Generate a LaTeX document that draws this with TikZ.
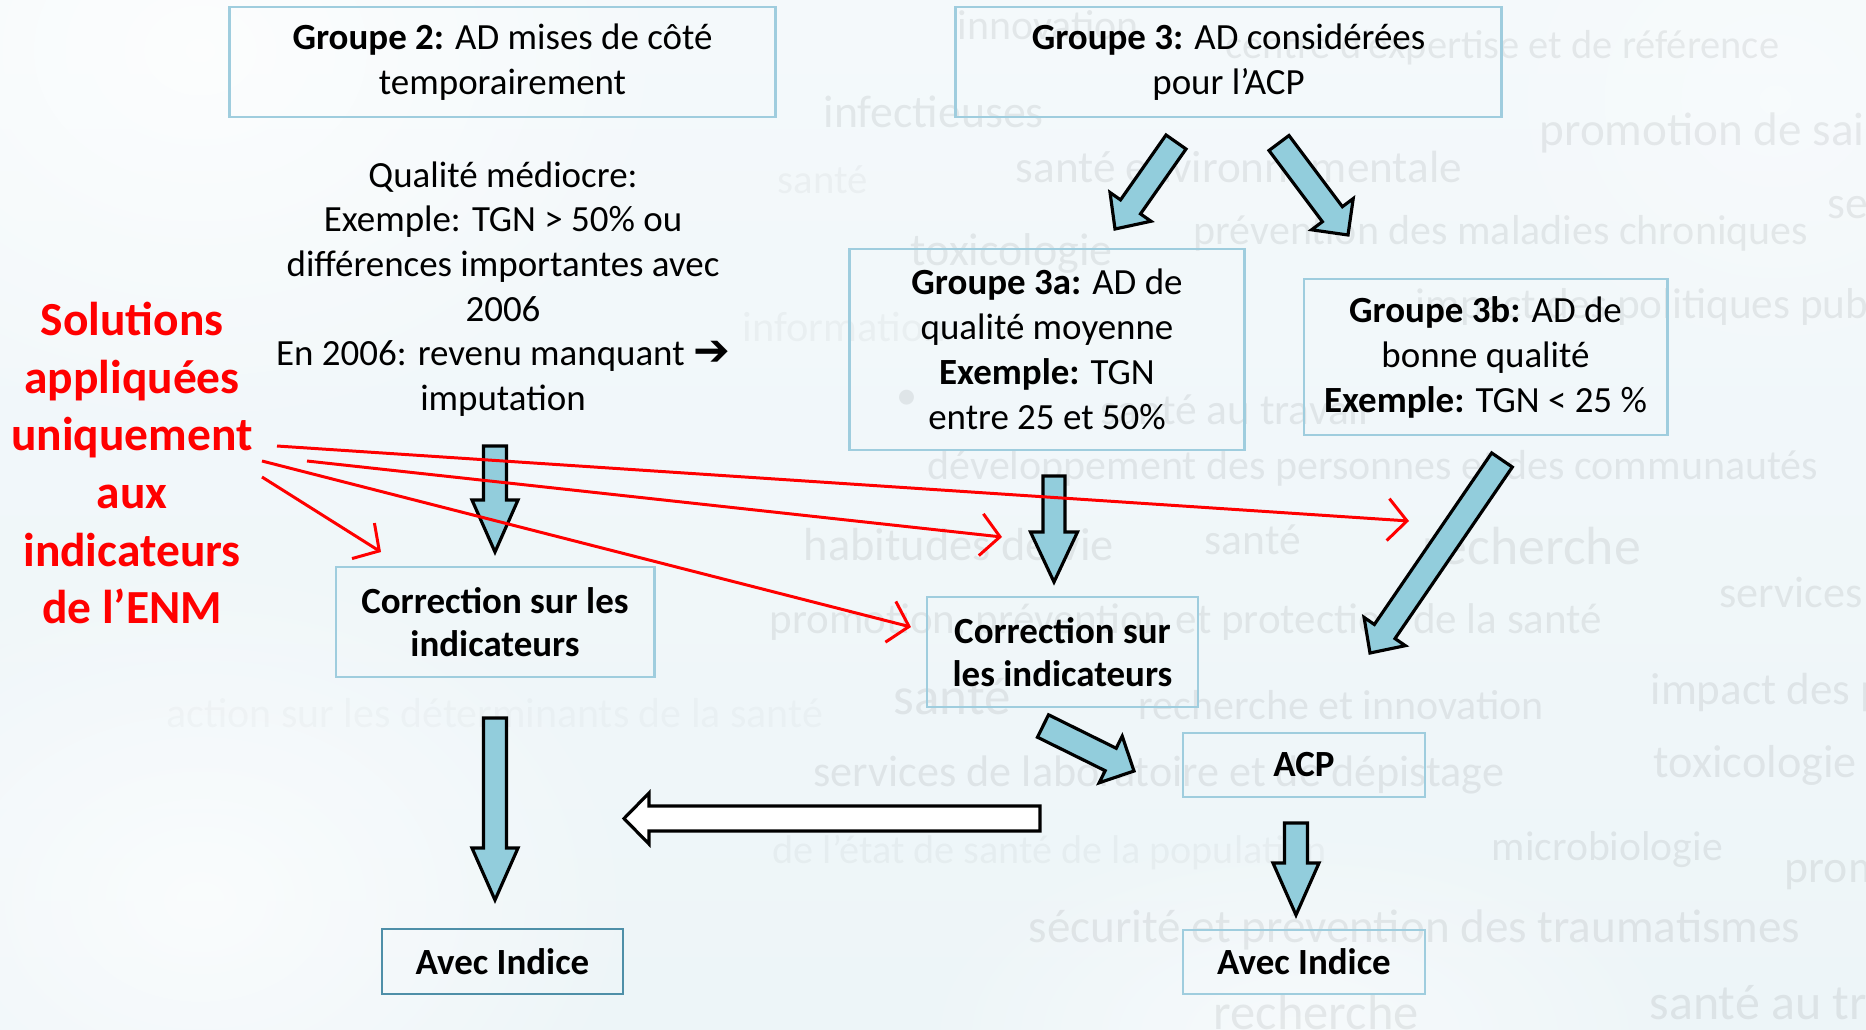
\documentclass[tikz,border=0pt]{standalone}
\usepackage{fontspec}
\setmainfont{Carlito}
\newfontfamily\symfont{DejaVu Sans}
\usepackage{graphicx}
\usetikzlibrary{calc,arrows.meta,fadings}

\definecolor{boxblue}{HTML}{9FCDDE}
\definecolor{boxdark}{HTML}{4E8FA8}
\definecolor{afill}{HTML}{92CDDC}
\definecolor{bgtop}{HTML}{F4F9FB}
\definecolor{bgmid}{HTML}{DAEDF5}
\definecolor{bgbot}{HTML}{EDF5F8}
\definecolor{solred}{HTML}{FF0000}

\tikzfading[name=fogfade, inner color=transparent!0, outer color=transparent!100]

% block arrow: #1 style, #2 tail, #3 tip, #4 half shaft, #5 half head, #6 head length
\newcommand{\blockarr}[6]{%
  \coordinate (hb) at ($(#3)!#6!(#2)$);
  \draw[#1] ($(#2)!#4!90:(#3)$) -- ($(hb)!#4!90:(#3)$) -- ($(hb)!#5!90:(#3)$)
    -- (#3) -- ($(hb)!#5!-90:(#3)$) -- ($(hb)!#4!-90:(#3)$) -- ($(#2)!#4!-90:(#3)$) -- cycle;}

% watermark with target width
\newcommand{\wmw}[5]{\node[wm] (#1) at (#2,#3) {\resizebox{#4}{!}{#5}};}

\tikzset{
  box/.style={draw=boxblue, line width=0.8pt, align=center, inner sep=0pt,
    font=\fontsize{10.5}{12.8}\selectfont},
  boldbox/.style={box, font=\fontsize{10.5}{12.4}\selectfont\bfseries},
  plain/.style={align=center, inner sep=0pt, font=\fontsize{10.5}{12.7}\selectfont},
  soltext/.style={align=center, inner sep=0pt, text=solred,
    font=\fontsize{13.5}{16.4}\selectfont\bfseries},
  bluearrow/.style={fill=afill, draw=black, line width=0.9pt, line join=miter},
  whitearrow/.style={fill=white, draw=black, line width=0.9pt, line join=miter},
  redarr/.style={draw=solred, line width=0.85pt, -{Straight Barb[length=1.9mm,width=4.2mm]}},
  wm/.style={anchor=west, inner sep=0pt, text=black, text opacity=0.07},
  wmfaint/.style={wm, text opacity=0.035},
}

\begin{document}
\begin{tikzpicture}[x=0.01cm, y=-0.01cm]
\useasboundingbox (0,0) rectangle (1866,1030);
\clip (0,0) rectangle (1866,1030);

% ---------- background ----------
\shade[top color=bgtop, middle color=bgmid, bottom color=bgbot] (0,0) rectangle (1866,1030);
\fill[white, opacity=0.75, path fading=fogfade] (-300,-350) rectangle (700,450);
\fill[white, opacity=0.7, path fading=fogfade] (-250,550) rectangle (650,1250);
\fill[white, opacity=0.55, path fading=fogfade] (900,820) rectangle (1700,1250);
\fill[white, opacity=0.35, path fading=fogfade] (1450,-200) rectangle (2100,400);

% ---------- watermark words ----------
\wmw{w1}{957}{25}{1.81cm}{innovation}
\wmw{w2}{1225}{47}{5.53cm}{centre d’expertise et de référence}
\node[wm, font=\fontsize{13.4}{15}\selectfont] (w3) at (1539,133) {promotion de saines habitudes de vie};
\wmw{w4}{823}{112}{2.2cm}{infectieuses}
\node[wmfaint] (w5) at (777,180) {\resizebox{0.9cm}{!}{santé}};
\wmw{w6}{1015}{167}{4.46cm}{santé environnementale}
\node[wm, font=\fontsize{13}{15}\selectfont] (w7) at (1827,203) {services};
\wmw{w8}{1193}{233}{6.14cm}{prévention des maladies chroniques}
\wmw{w9}{910}{253}{2.02cm}{toxicologie}
\node[wm, font=\fontsize{12.3}{14}\selectfont] (w10) at (1415,307) {impact des politiques publiques};
\node[wmfaint] (w11) at (742,327) {\resizebox{2.03cm}{!}{information}};
\node[wm, font=\fontsize{12}{14}\selectfont] (w12b) at (896,400) {•};
\wmw{w12}{1100}{410}{2.68cm}{santé au travail}
\wmw{w13}{927}{468}{8.9cm}{développement des personnes et des communautés}
\wmw{w14}{803}{545}{3.1cm}{habitudes de vie}
\wmw{w15}{1204}{540}{0.96cm}{santé}
\wmw{w16}{1422}{546}{2.18cm}{recherche}
\wmw{w17}{1719}{592}{1.43cm}{services}
\wmw{w18}{769}{622}{8.32cm}{promotion, prévention et protection de la santé}
\wmw{w19}{893}{697}{1.17cm}{santé}
\wmw{w20}{1138}{705}{4.05cm}{recherche et innovation}
\node[wm, font=\fontsize{12.8}{15}\selectfont] (w21) at (1650,692) {impact des politiques publiques};
\node[wmfaint, text opacity=0.025] (w22) at (166,713) {\resizebox{6.56cm}{!}{action sur les déterminants de la santé}};
\wmw{w23}{813}{775}{6.9cm}{services de laboratoire et de dépistage}
\wmw{w24}{1653}{765}{2.03cm}{toxicologie}
\node[wmfaint] (w25) at (772,853) {\resizebox{5.54cm}{!}{de l’état de santé de la population}};
\wmw{w26}{1491}{850}{2.31cm}{microbiologie}
\node[wm, font=\fontsize{13}{15}\selectfont] (w27) at (1784,870) {promotion};
\wmw{w28}{1028}{930}{7.71cm}{sécurité et prévention des traumatismes}
\wmw{w29}{1213}{1012}{2.05cm}{recherche}
\node[wm, font=\fontsize{14.2}{16}\selectfont] (w30) at (1649,1002) {santé au travail};

% ---------- boxes ----------
\node[box, minimum width=5.45cm, minimum height=1.10cm] (g2) at (502.5,62)
  {\textbf{Groupe 2:} AD mises de côté\\temporairement};
\node[box, minimum width=5.45cm, minimum height=1.10cm] (g3) at (1228.5,62)
  {\textbf{Groupe 3:} AD considérées\\pour l’ACP};
\node[box, minimum width=3.94cm, minimum height=2.01cm] (g3a) at (1047,349.5)
  {\textbf{Groupe 3a:} AD de\\qualité moyenne\\\textbf{Exemple:} TGN\\entre 25 et 50\%};
\node[box, minimum width=3.63cm, minimum height=1.56cm] (g3b) at (1485.5,357)
  {\textbf{Groupe 3b:} AD de\\bonne qualité\\\textbf{Exemple:} TGN < 25 \%};
\node[boldbox, minimum width=3.18cm, minimum height=1.10cm] (corrL) at (495,622)
  {Correction sur les\\indicateurs};
\node[boldbox, minimum width=2.71cm, minimum height=1.10cm] (corrM) at (1062.5,652)
  {Correction sur\\les indicateurs};
\node[boldbox, minimum width=2.42cm, minimum height=0.64cm] (acp) at (1304,765) {ACP};
\node[boldbox, draw=boxdark, minimum width=2.41cm, minimum height=0.65cm] (avecL) at (502.5,961.5) {Avec Indice};
\node[boldbox, minimum width=2.42cm, minimum height=0.64cm] (avecR) at (1304,962) {Avec Indice};

% ---------- free texts ----------
\node[plain] (qual) at (503,289)
  {Qualité médiocre:\\Exemple: TGN > 50\% ou\\différences importantes avec\\2006\\En 2006: revenu manquant {\symfont\fontsize{12.5}{12}\selectfont ➔}\\imputation};
\node[soltext] (sol) at (132,463)
  {Solutions\\appliquées\\uniquement\\aux\\indicateurs\\de l’ENM};

% ---------- block arrows ----------
\coordinate (aT) at (1176,142);  \coordinate (aH) at (1115,229);
\coordinate (bT) at (1279,143);  \coordinate (bH) at (1348,235);
\coordinate (cT) at (1502,460);  \coordinate (cH) at (1370,653);
\coordinate (dT) at (495,446);   \coordinate (dH) at (495,552);
\coordinate (eT) at (495,718);   \coordinate (eH) at (495,900);
\coordinate (fT) at (1054,476);  \coordinate (fH) at (1054,582);
\coordinate (gT) at (1043,726);  \coordinate (gH) at (1134,771);
\coordinate (hT) at (1296,823);  \coordinate (hH) at (1296,915);
\coordinate (iT) at (1040,818.5); \coordinate (iH) at (624,818.5);

\blockarr{bluearrow}{aT}{aH}{0.122cm}{0.25cm}{0.27cm}
\blockarr{bluearrow}{bT}{bH}{0.125cm}{0.26cm}{0.26cm}
\blockarr{bluearrow}{cT}{cH}{0.125cm}{0.25cm}{0.26cm}
\blockarr{bluearrow}{dT}{dH}{0.115cm}{0.23cm}{0.52cm}
\blockarr{bluearrow}{eT}{eH}{0.115cm}{0.23cm}{0.52cm}
\blockarr{bluearrow}{fT}{fH}{0.11cm}{0.235cm}{0.50cm}
\blockarr{bluearrow}{gT}{gH}{0.125cm}{0.26cm}{0.26cm}
\blockarr{bluearrow}{hT}{hH}{0.115cm}{0.23cm}{0.52cm}
\blockarr{whitearrow}{iT}{iH}{0.125cm}{0.255cm}{0.25cm}

% ---------- red arrows ----------
\coordinate (s1) at (277,446); \coordinate (e1) at (1409,521);
\coordinate (s2) at (307,461); \coordinate (e2) at (1002,537);
\coordinate (s3) at (262,461); \coordinate (e3) at (911,627);
\coordinate (s4) at (262,477); \coordinate (e4) at (381,552);
\draw[redarr] (s1) -- (e1);
\draw[redarr] (s2) -- (e2);
\draw[redarr] (s3) -- (e3);
\draw[redarr] (s4) -- (e4);
\end{tikzpicture}
\end{document}
